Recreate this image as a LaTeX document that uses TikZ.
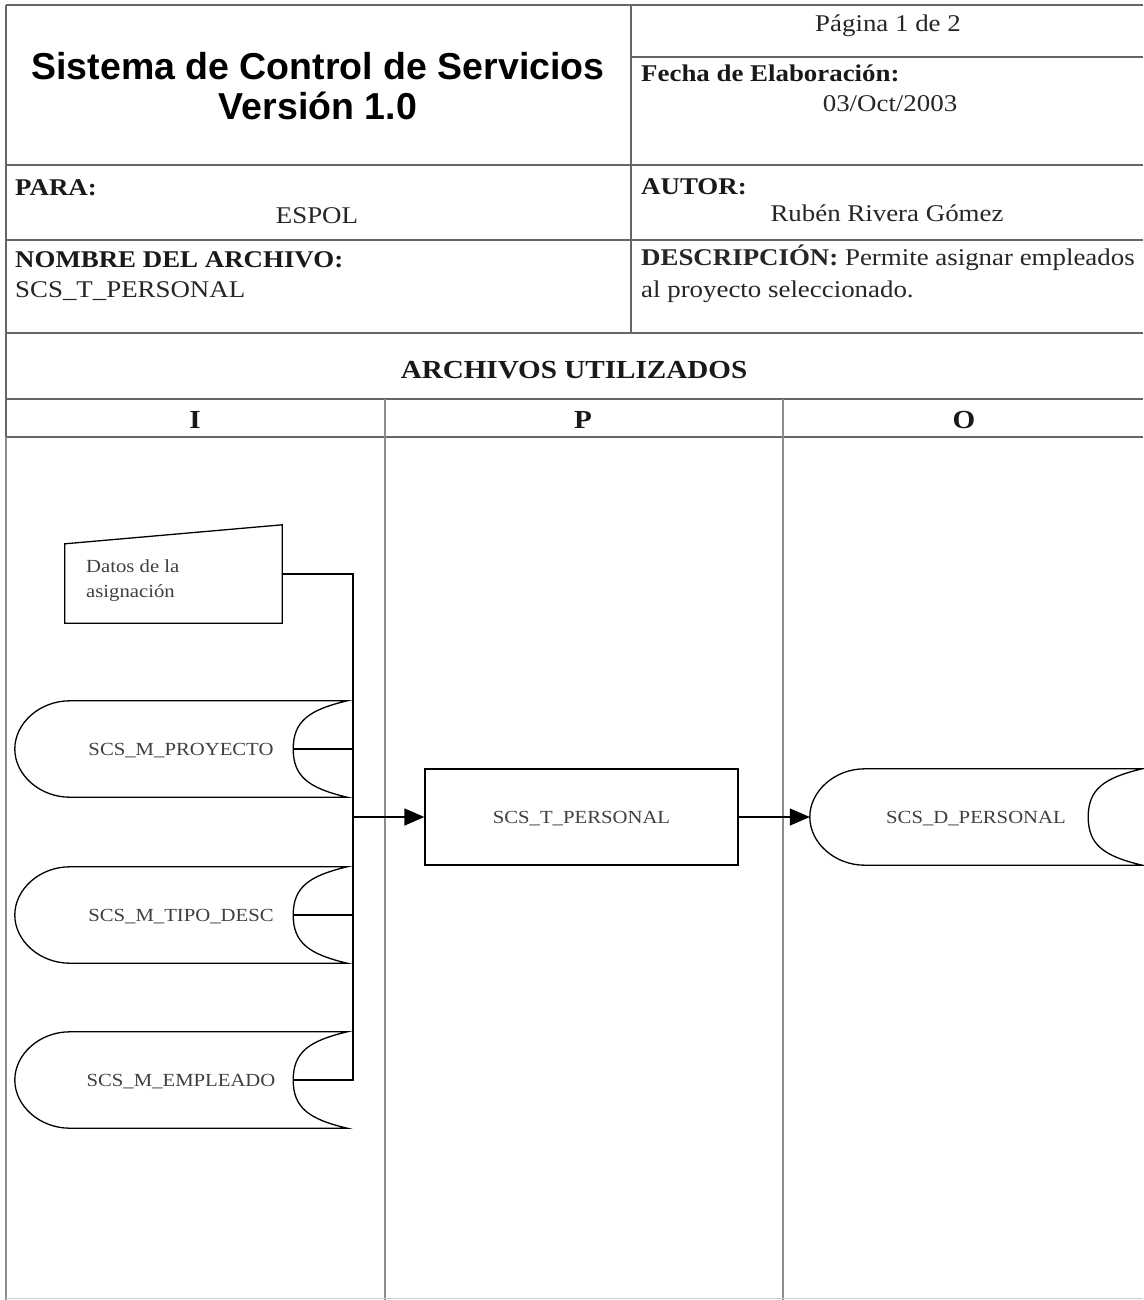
\documentclass[tikz,border=0pt]{standalone}
\usepackage{fontspec}
\setmainfont{Liberation Serif}[FakeStretch=1.12]
\newfontfamily\titlefont{Liberation Sans}
\usetikzlibrary{calc,arrows.meta}
\tikzset{
  frame/.style={draw=black!60, line width=1.6pt},
  lane/.style={draw=black!45, line width=1.2pt},
  outline/.style={draw=black, line width=1.3pt},
  conn/.style={draw=black, line width=1.3pt},
  flow/.style={conn, -{Triangle[length=20pt,width=17pt]}},
  hdr/.style={inner sep=0pt, font=\fontsize{24}{28}\selectfont, text=black!85},
  hdrb/.style={inner sep=0pt, font=\fontsize{24}{28}\selectfont\bfseries, text=black!90},
  big/.style={inner sep=0pt, font=\fontsize{26}{30}\selectfont\bfseries, text=black!90},
  ttl/.style={inner sep=0pt, font=\titlefont\fontsize{37.5}{40}\selectfont\bfseries, text=black},
  lbl/.style={inner sep=0pt, font=\fontsize{18.5}{22}\selectfont, text=black!75},
  store/.style={lbl, minimum width=332pt, minimum height=96pt, text height=12.2pt, text depth=0pt},
  proc/.style={store, outline, minimum width=313pt},
}
\newcommand\drawstore[1]{%
  \draw[outline] ($(#1.north west)+(55,0)$) -- (#1.north east)
    .. controls ($(#1.north east)+(-38,9)$) and ($(#1.east)+(-54,-28)$) .. ($(#1.east)+(-54,0)$) coordinate (#1-in)
    .. controls ($(#1.east)+(-54,28)$) and ($(#1.south east)+(-38,-9)$) .. (#1.south east)
    -- ($(#1.south west)+(55,0)$)
    .. controls ($(#1.south west)+(25,0)$) and ($(#1.west)+(0,26)$) .. (#1.west)
    .. controls ($(#1.west)+(0,-26)$) and ($(#1.north west)+(25,0)$) .. cycle;}
\begin{document}
\begin{tikzpicture}[x=1pt,y=-1pt]
\useasboundingbox[fill=white] (0,0) rectangle (1143,1300);
% ---- table ----
\draw[frame] (6,5) -- (1143,5);
\draw[frame] (6,5) -- (6,437);
\draw[frame] (631,5) -- (631,333);
\draw[frame] (631,57) -- (1143,57);
\draw[frame] (6,165) -- (1143,165);
\draw[frame] (6,240) -- (1143,240);
\draw[frame] (6,333) -- (1143,333);
\draw[frame] (6,399) -- (1143,399);
\draw[frame] (6,437) -- (1143,437);
\draw[lane] (6,437) -- (6,1300);
\draw[lane] (385,399) -- (385,1300);
\draw[lane] (783,399) -- (783,1300);
\draw[draw=black!20, line width=1pt] (6,1298) -- (1143,1298);
% ---- header texts ----
\node[ttl, anchor=base] (t1) at (318,80) {Sistema de Control de Servicios};
\node[ttl, anchor=base] (t2) at (318,120) {Versión 1.0};
\node[hdr, anchor=base] (pag) at (888,32) {Página 1 de 2};
\node[hdrb, anchor=base west] (fec) at (641,82) {Fecha de Elaboración:};
\node[hdr, anchor=base] (fecv) at (890,112) {03/Oct/2003};
\node[hdrb, anchor=base west] (para) at (15,195) {PARA:};
\node[hdr, anchor=base] (parav) at (317,223) {ESPOL};
\node[hdrb, anchor=base west] (aut) at (641,194) {AUTOR:};
\node[hdr, anchor=base] (autv) at (887,222) {Rubén Rivera Gómez};
\node[hdrb, anchor=base west] (nom) at (15,267) {NOMBRE DEL ARCHIVO:};
\node[hdr, anchor=base west] (nomv) at (15,297) {SCS\_T\_PERSONAL};
\node[hdr, anchor=base west] (des) at (641,265) {\textbf{DESCRIPCIÓN:} Permite asignar empleados};
\node[hdr, anchor=base west] (des2) at (641,297) {al proyecto seleccionado.};
\node[big, anchor=base] (arch) at (574,378) {ARCHIVOS UTILIZADOS};
\node[big, anchor=base] (ci) at (195,428) {I};
\node[big, anchor=base] (cp) at (583,428) {P};
\node[big, anchor=base] (co) at (964,428) {O};
% ---- diagram ----
\node[minimum width=217pt, minimum height=98pt, inner sep=0pt] (din) at (173.5,574) {};
\draw[outline] (din.south west) -- ($(din.north west)+(0,19)$) -- (din.north east) -- (din.south east) -- cycle;
\node[lbl, anchor=base west] (dina) at (86,572) {Datos de la};
\node[lbl, anchor=base west] (dinb) at (86,597) {asignación};
\node[store] (pro) at (181,749) {SCS\_M\_PROYECTO};
\node[store] (tip) at (181,915) {SCS\_M\_TIPO\_DESC};
\node[store] (emp) at (181,1080) {SCS\_M\_EMPLEADO};
\node[store] (dper) at (976,817) {SCS\_D\_PERSONAL};
\drawstore{pro}
\drawstore{tip}
\drawstore{emp}
\drawstore{dper}
\node[proc] (tper) at (581.5,817) {SCS\_T\_PERSONAL};
\coordinate (j) at (353,817);
\draw[conn] (din.east) -| (j);
\draw[conn] (pro-in) -| (j);
\draw[conn] (tip-in) -| (j);
\draw[conn] (emp-in) -| (j);
\draw[flow] (j) -- (tper.west);
\draw[flow] (tper.east) -- (dper.west);
\end{tikzpicture}
\end{document}
